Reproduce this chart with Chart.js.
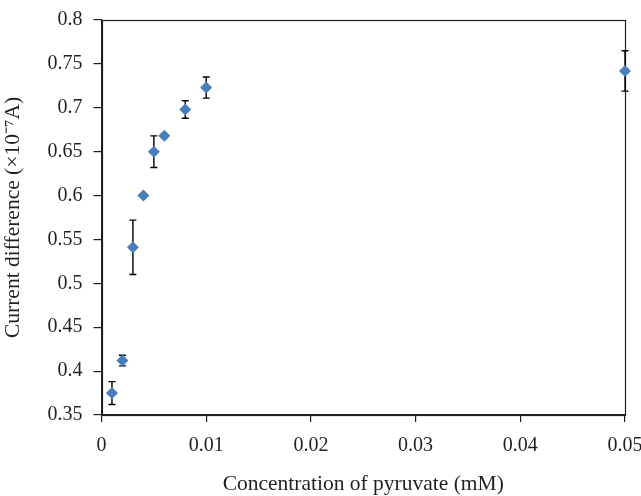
<!DOCTYPE html>
<html>
<head>
<meta charset="utf-8">
<script src="https://cdn.jsdelivr.net/npm/chart.js@4/dist/chart.umd.min.js"></script>
<style>
html,body{margin:0;padding:0;background:#fff;}
#wrap{width:641px;height:496px;position:relative;}
</style>
</head>
<body>
<div id="wrap"><canvas id="c" width="641" height="496"></canvas></div>
<script>
// Data
const concentrations = [0.001, 0.002, 0.003, 0.004, 0.005, 0.006, 0.008, 0.01, 0.05];
const currentDiff    = [0.375, 0.412, 0.541, 0.600, 0.650, 0.668, 0.698, 0.723, 0.742];
const errorValues    = [0.013, 0.006, 0.031, 0.002, 0.018, 0.002, 0.010, 0.012, 0.023];
const xTickValues = [0, 0.01, 0.02, 0.03, 0.04, 0.05];
const yTickValues = [0.35, 0.4, 0.45, 0.5, 0.55, 0.6, 0.65, 0.7, 0.75, 0.8];
const xTitle = 'Concentration of pyruvate (mM)';
const yTitle = 'Current difference (\u00D710\u207B\u2077A)';

const FONT = "'Liberation Serif', 'Times New Roman', serif";
const INK = '#231f20';

const boxPlugin = {
  id: 'boxPlugin',
  beforeDatasetsDraw(chart) {
    const {ctx, chartArea: a} = chart;
    ctx.save();
    ctx.strokeStyle = INK;
    ctx.lineWidth = 1.2;
    ctx.strokeRect(Math.round(a.left) + 0.5, Math.round(a.top) + 0.5,
                   Math.round(a.right) - Math.round(a.left), Math.round(a.bottom) - Math.round(a.top));
    ctx.restore();
  }
};

const errorBarPlugin = {
  id: 'errorBars',
  beforeDatasetsDraw(chart) {
    const {ctx, scales} = chart;
    ctx.save();
    ctx.strokeStyle = '#000';
    ctx.lineWidth = 1.4;
    const cap = 3.5;
    concentrations.forEach((xv, i) => {
      const x = scales.x.getPixelForValue(xv);
      const yTop = scales.y.getPixelForValue(currentDiff[i] + errorValues[i]);
      const yBot = scales.y.getPixelForValue(currentDiff[i] - errorValues[i]);
      ctx.beginPath();
      ctx.moveTo(x, yTop); ctx.lineTo(x, yBot);
      ctx.moveTo(x - cap, yTop); ctx.lineTo(x + cap, yTop);
      ctx.moveTo(x - cap, yBot); ctx.lineTo(x + cap, yBot);
      ctx.stroke();
    });
    ctx.restore();
  }
};

new Chart(document.getElementById('c'), {
  type: 'scatter',
  data: {
    datasets: [{
      data: concentrations.map((x, i) => ({x: x, y: currentDiff[i]})),
      pointStyle: 'rectRot',
      pointRadius: 6,
      pointHoverRadius: 6,
      backgroundColor: '#4a7ebb',
      borderColor: '#4a7ebb',
      borderWidth: 0,
      clip: false
    }]
  },
  plugins: [boxPlugin, errorBarPlugin],
  options: {
    responsive: false,
    animation: false,
    events: [],
    layout: {padding: {top: 20, right: 16, left: 0, bottom: 0}},
    plugins: {legend: {display: false}, tooltip: {enabled: false}},
    scales: {
      x: {
        type: 'linear',
        min: 0, max: 0.05,
        afterBuildTicks: s => { s.ticks = xTickValues.map(v => ({value: v})); },
        afterFit: s => { s.height = 81; s.paddingLeft = 0; s.paddingRight = 0; },
        ticks: {
          autoSkip: false, maxRotation: 0,
          padding: 12,
          color: INK,
          font: {family: FONT, size: 20},
          callback: v => String(+v.toFixed(3))
        },
        grid: {display: true, drawOnChartArea: false, drawTicks: true, tickLength: 7, color: INK, lineWidth: 1.2},
        border: {display: true, color: INK, width: 1.2},
        title: {display: true, text: xTitle, color: INK, font: {family: FONT, size: 21.5, lineHeight: 1.05}, padding: 0}
      },
      y: {
        type: 'linear',
        min: 0.35, max: 0.8,
        afterBuildTicks: s => { s.ticks = yTickValues.map(v => ({value: v})); },
        afterFit: s => { s.width = 101.5; s.paddingTop = 0; s.paddingBottom = 0; },
        ticks: {
          autoSkip: false,
          padding: 11,
          color: INK,
          font: {family: FONT, size: 20},
          callback: v => String(+v.toFixed(2))
        },
        grid: {display: true, drawOnChartArea: false, drawTicks: true, tickLength: 8, color: INK, lineWidth: 1.2},
        border: {display: true, color: INK, width: 1.2},
        title: {display: true, text: yTitle, color: INK, font: {family: FONT, size: 21.5, lineHeight: 1.2}, padding: 0}
      }
    }
  }
});
</script>
</body>
</html>
